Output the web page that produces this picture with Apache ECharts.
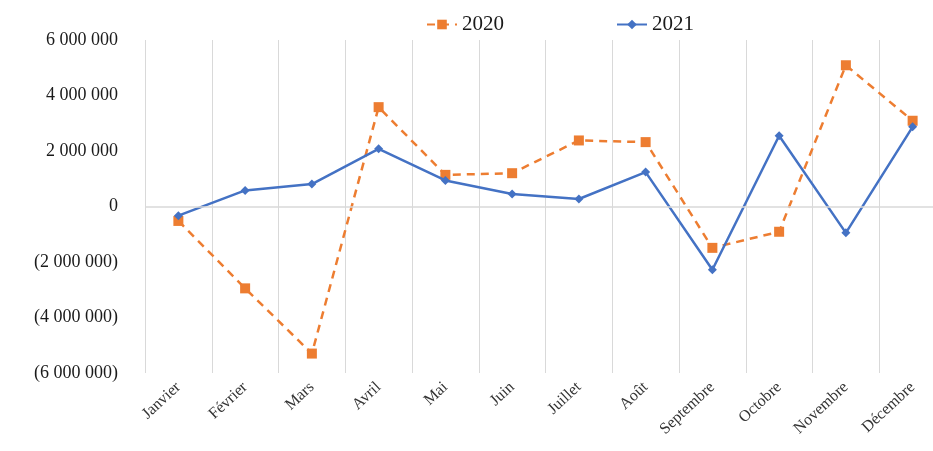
<!DOCTYPE html>
<html>
<head>
<meta charset="utf-8">
<script src="https://cdn.jsdelivr.net/npm/echarts@6/dist/echarts.min.js"></script>
<style>
  html, body { margin: 0; padding: 0; background: #fff; }
  #chart { width: 933px; height: 451px; }
</style>
</head>
<body>
<div id="chart"></div>
<script>
const months = ['Janvier', 'Février', 'Mars', 'Avril', 'Mai', 'Juin', 'Juillet', 'Août', 'Septembre', 'Octobre', 'Novembre', 'Décembre'];
const values2020 = [-520000, -2950000, -5300000, 3580000, 1140000, 1200000, 2380000, 2320000, -1490000, -910000, 5090000, 3090000];
const values2021 = [-330000, 580000, 810000, 2080000, 940000, 450000, 270000, 1240000, -2280000, 2550000, -950000, 2870000];

const serif = '"Liberation Serif", "DejaVu Serif", serif';

const formatAmount = (v) => {
  const s = Math.abs(v).toString().replace(/\B(?=(\d{3})+(?!\d))/g, ' ');
  return v < 0 ? '(' + s + ')' : s;
};

const chart = echarts.init(document.getElementById('chart'));
chart.setOption({
  animation: false,
  legend: {
    top: 9,
    left: 421,
    itemGap: 112,
    itemWidth: 30,
    itemHeight: 12,
    textStyle: { fontFamily: serif, fontSize: 21, color: '#1a1a1a' },
    data: ['2020', '2021']
  },
  grid: { left: 145, width: 801, top: 40, bottom: 78, outerBoundsMode: 'none', containLabel: false },
  xAxis: {
    type: 'category',
    data: months,
    boundaryGap: true,
    axisLine: { onZero: false, show: false },
    axisTick: { show: false },
    splitLine: { show: true, lineStyle: { color: '#d9d9d9', width: 1 } },
    axisLabel: {
      interval: 0,
      rotate: 43,
      margin: 12,
      fontFamily: serif,
      fontSize: 16,
      color: '#333333'
    }
  },
  yAxis: {
    type: 'value',
    min: -6000000,
    max: 6000000,
    interval: 2000000,
    axisLine: { show: false },
    axisTick: { show: false },
    splitLine: { show: false },
    axisLabel: {
      margin: 27,
      fontFamily: serif,
      fontSize: 18,
      color: '#1a1a1a',
      formatter: formatAmount
    }
  },
  series: [
    {
      name: '2020',
      type: 'line',
      data: values2020,
      symbol: 'rect',
      symbolSize: 10,
      itemStyle: { color: '#ED7D31' },
      lineStyle: { color: '#ED7D31', width: 2.5, type: [8, 6] },
      markLine: {
        silent: true,
        symbol: 'none',
        label: { show: false },
        lineStyle: { color: '#d9d9d9', width: 1.5, type: 'solid' },
        data: [{ yAxis: 0 }]
      },
      z: 3
    },
    {
      name: '2021',
      type: 'line',
      data: values2021,
      symbol: 'diamond',
      symbolSize: 9,
      itemStyle: { color: '#4472C4' },
      lineStyle: { color: '#4472C4', width: 2.5 },
      z: 4
    }
  ]
});
</script>
</body>
</html>
